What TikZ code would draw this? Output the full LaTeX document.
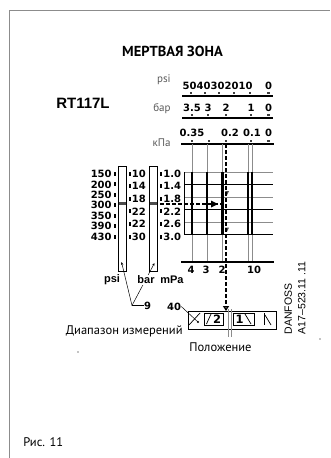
\documentclass[tikz,border=0pt]{standalone}
\usepackage{fontspec}
\setmainfont{PT Sans}
\newfontfamily\digfont{DejaVu Sans}
\newfontfamily\helvfont{Liberation Sans}
\usetikzlibrary{arrows.meta}
\definecolor{framegray}{gray}{0.55}
\definecolor{labelgray}{gray}{0.35}
\definecolor{linegray}{gray}{0.55}

\begin{document}
\begin{tikzpicture}[x=1pt, y=-1pt, line width=0.7pt,
    num/.style={inner sep=0pt, font=\digfont\bfseries\fontsize{10}{10}\selectfont},
    bignum/.style={inner sep=0pt, font=\digfont\bfseries\fontsize{11.5}{11.5}\selectfont},
    unitlbl/.style={inner sep=0pt, anchor=east, text=labelgray, font=\fontsize{11}{11}\selectfont},
    unitb/.style={inner sep=0.5pt, fill=white, font=\helvfont\bfseries\fontsize{11}{11}\selectfont},
    scaletick/.style={fill=black!75, minimum width=2.6pt, minimum height=2.6pt, inner sep=0pt},
    coltick/.style={fill=black, minimum width=2pt, minimum height=4pt, inner sep=0pt},
    scaleline/.style={line width=1.6pt},
    caption/.style={inner sep=0pt, font=\fontsize{12.5}{12.5}\selectfont}]
	\useasboundingbox (0,0) rectangle (330,458);
	% frame
	\draw[framegray, line width=0.9pt] (9.3,458) -- (9.3,10.7) -- (330,10.7);
	\node[inner sep=0pt, font=\bfseries\fontsize{14.5}{14.5}\selectfont] (title) at (172.5,51.7) {МЕРТВАЯ ЗОНА};
	\node[inner sep=0pt, anchor=east, font=\helvfont\bfseries\fontsize{15}{15}\selectfont] (model) at (110,103) {RT117L};

	% top scales
	\node[unitlbl] (psiunit) at (171,80) {psi};
	\node[unitlbl] (barunit) at (171,109) {бар};
	\node[unitlbl] (kpaunit) at (171,143) {кПа};
	\draw[scaleline] (182,96) -- (273,96);
	\draw[scaleline] (182,118) -- (273,118);
	\draw[scaleline] (181,144) -- (274,144);
	\foreach \v/\x in {50/189.5,40/203.5,30/217.5,20/231.5,10/245.5,0/268.5}
		\node[num] at (\x,86) {\v};
	\foreach \x in {191,205,219,234,250,268.5}
		\node[scaletick] at (\x,93) {};
	\foreach \v/\x in {3.5/192,3/208,2/226,1/251,0/268.5} {
		\node[num] at (\x,108) {\v};
		\node[scaletick] at (\x,115) {};
	}
	\foreach \x in {192,209,226,251,268.5}
		\node[scaletick] at (\x,141) {};
	\foreach \v/\x in {0.35/192,0.2/230,0.1/252,0/268.5}
		\node[num] at (\x,133) {\v};

	% chart
	\foreach \x in {192,207,222.5,248,252}
		\draw[linegray] (\x,144) -- (\x,262);
	\foreach \y/\c in {172/linegray,184.5/black,197/linegray,209.5/black,222/linegray,234.5/black}
		\draw[\c, line width=1pt] (184,\y) -- (273,\y);
	\draw (184,172) -- (184,234.5);
	\foreach \x in {192,207,222.5,248,252}
		\draw[line width=2.4pt] (\x,172) -- (\x,234.5);
	\draw[scaleline] (181,262) -- (274,262);
	\foreach \v/\x in {4/191,3/206,2/222,10/254}
		\node[num] at (\x,270) {\v};
	\fill[black!70] (225,191) -- (229,191) -- (227,195) -- cycle;
	\fill[black!70] (225,227.5) -- (229,227.5) -- (227,231.5) -- cycle;

	% left scales
	\draw[line width=0.8pt] (118.3,166.7) rectangle (126.7,271.7);
	\draw[line width=0.8pt] (149.3,166.7) rectangle (157.7,271.7);
	\fill[black!70] (118.8,202.3) rectangle (126.2,204.5);
	\fill[black!70] (149.8,202.3) rectangle (157.2,204.5);
	\foreach \v [count=\i from 0] in {150,200,250,300,350,390,430} {
		\node[num, anchor=east] at (112,{174+10.45*\i}) {\v};
		\node[coltick] at (114.6,{174+10.45*\i}) {};
	}
	\foreach \v/\w [count=\i from 0] in {10/1.0,14/1.4,18/1.8,22/2.2,22/2.6,30/3.0} {
		\node[coltick] at (129.5,{173.5+12.6*\i}) {};
		\node[num, anchor=west] at (131.5,{173.5+12.6*\i}) {\v};
		\node[coltick] at (160.7,{173.5+12.6*\i}) {};
		\node[num, anchor=west] at (163,{173.5+12.6*\i}) {\w};
	}

	% set point
	\coordinate (setpt) at (226,144);
	\coordinate (knobtop) at (226,311);
	\draw[dash pattern=on 4pt off 2pt, line width=1.3pt, -{Triangle[open, length=5pt, width=6pt]}] (setpt) -- (knobtop);
	\coordinate (presstart) at (160,204);
	\coordinate (presend) at (223,204);
	\draw[dash pattern=on 4pt off 2pt, line width=1.3pt] (presstart) -- (presend);
	\fill (211,200.5) -- (218,204) -- (211,207.5) -- cycle;

	% leaders
	\node[num] (nine) at (147.5,305.5) {9};
	\coordinate (fork) at (132,305.5);
	\draw[line width=0.5pt, -{Stealth[length=3pt, width=2.4pt]}] (fork) -- (121.5,262);
	\draw[line width=0.5pt, -{Stealth[length=3pt, width=2.4pt]}] (fork) -- (154.5,263);
	\draw[line width=0.5pt] (fork) -- (nine.west);
	\node[unitb] (psilbl) at (112,280) {psi};
	\node[unitb] (barlbl) at (146,280) {bar};
	\node[unitb] (mpalbl) at (172,280) {mPa};
	\node[num] (forty) at (174,306.5) {40};
	\coordinate (pointer) at (198,322);
	\draw[line width=0.5pt] (forty.east) -- (pointer);
	\fill (pointer) circle (1.1pt);

	% knob
	\draw[line width=1pt] (188,311) rectangle (276,329);
	\draw[line width=0.8pt] (204,313) rectangle (223,325);
	\draw[line width=0.8pt] (233,313) rectangle (254,325);
	\node[bignum] (two) at (217,319) {2};
	\node[bignum] (one) at (239.5,319) {1};
	\draw (206.5,324) -- (211,314);
	\draw (245,314) -- (251,324);
	\draw (189,325) -- (200,313);
	\draw (264,313) -- (264,325);
	\draw (265,315) -- (271,325);
	\draw[linegray, line width=0.8pt] (228.5,309) -- (228.5,337) (231,309) -- (231,337);

	% captions
	\node[caption, anchor=east] (range) at (183,331) {Диапазон измерений};
	\node[caption, anchor=west] (position) at (189,347) {Положение};
	\node[caption, anchor=west] (fig) at (23,441.7) {Рис. 11};
	\node[inner sep=0pt, rotate=90, align=left, font=\helvfont\fontsize{10.5}{13.5}\selectfont] (code) at (295,298) {DANFOSS\\A17–523.11 .11};
	\fill (78,352) circle (0.6pt);
	\fill (320,339) circle (0.6pt);
\end{tikzpicture}
\end{document}
